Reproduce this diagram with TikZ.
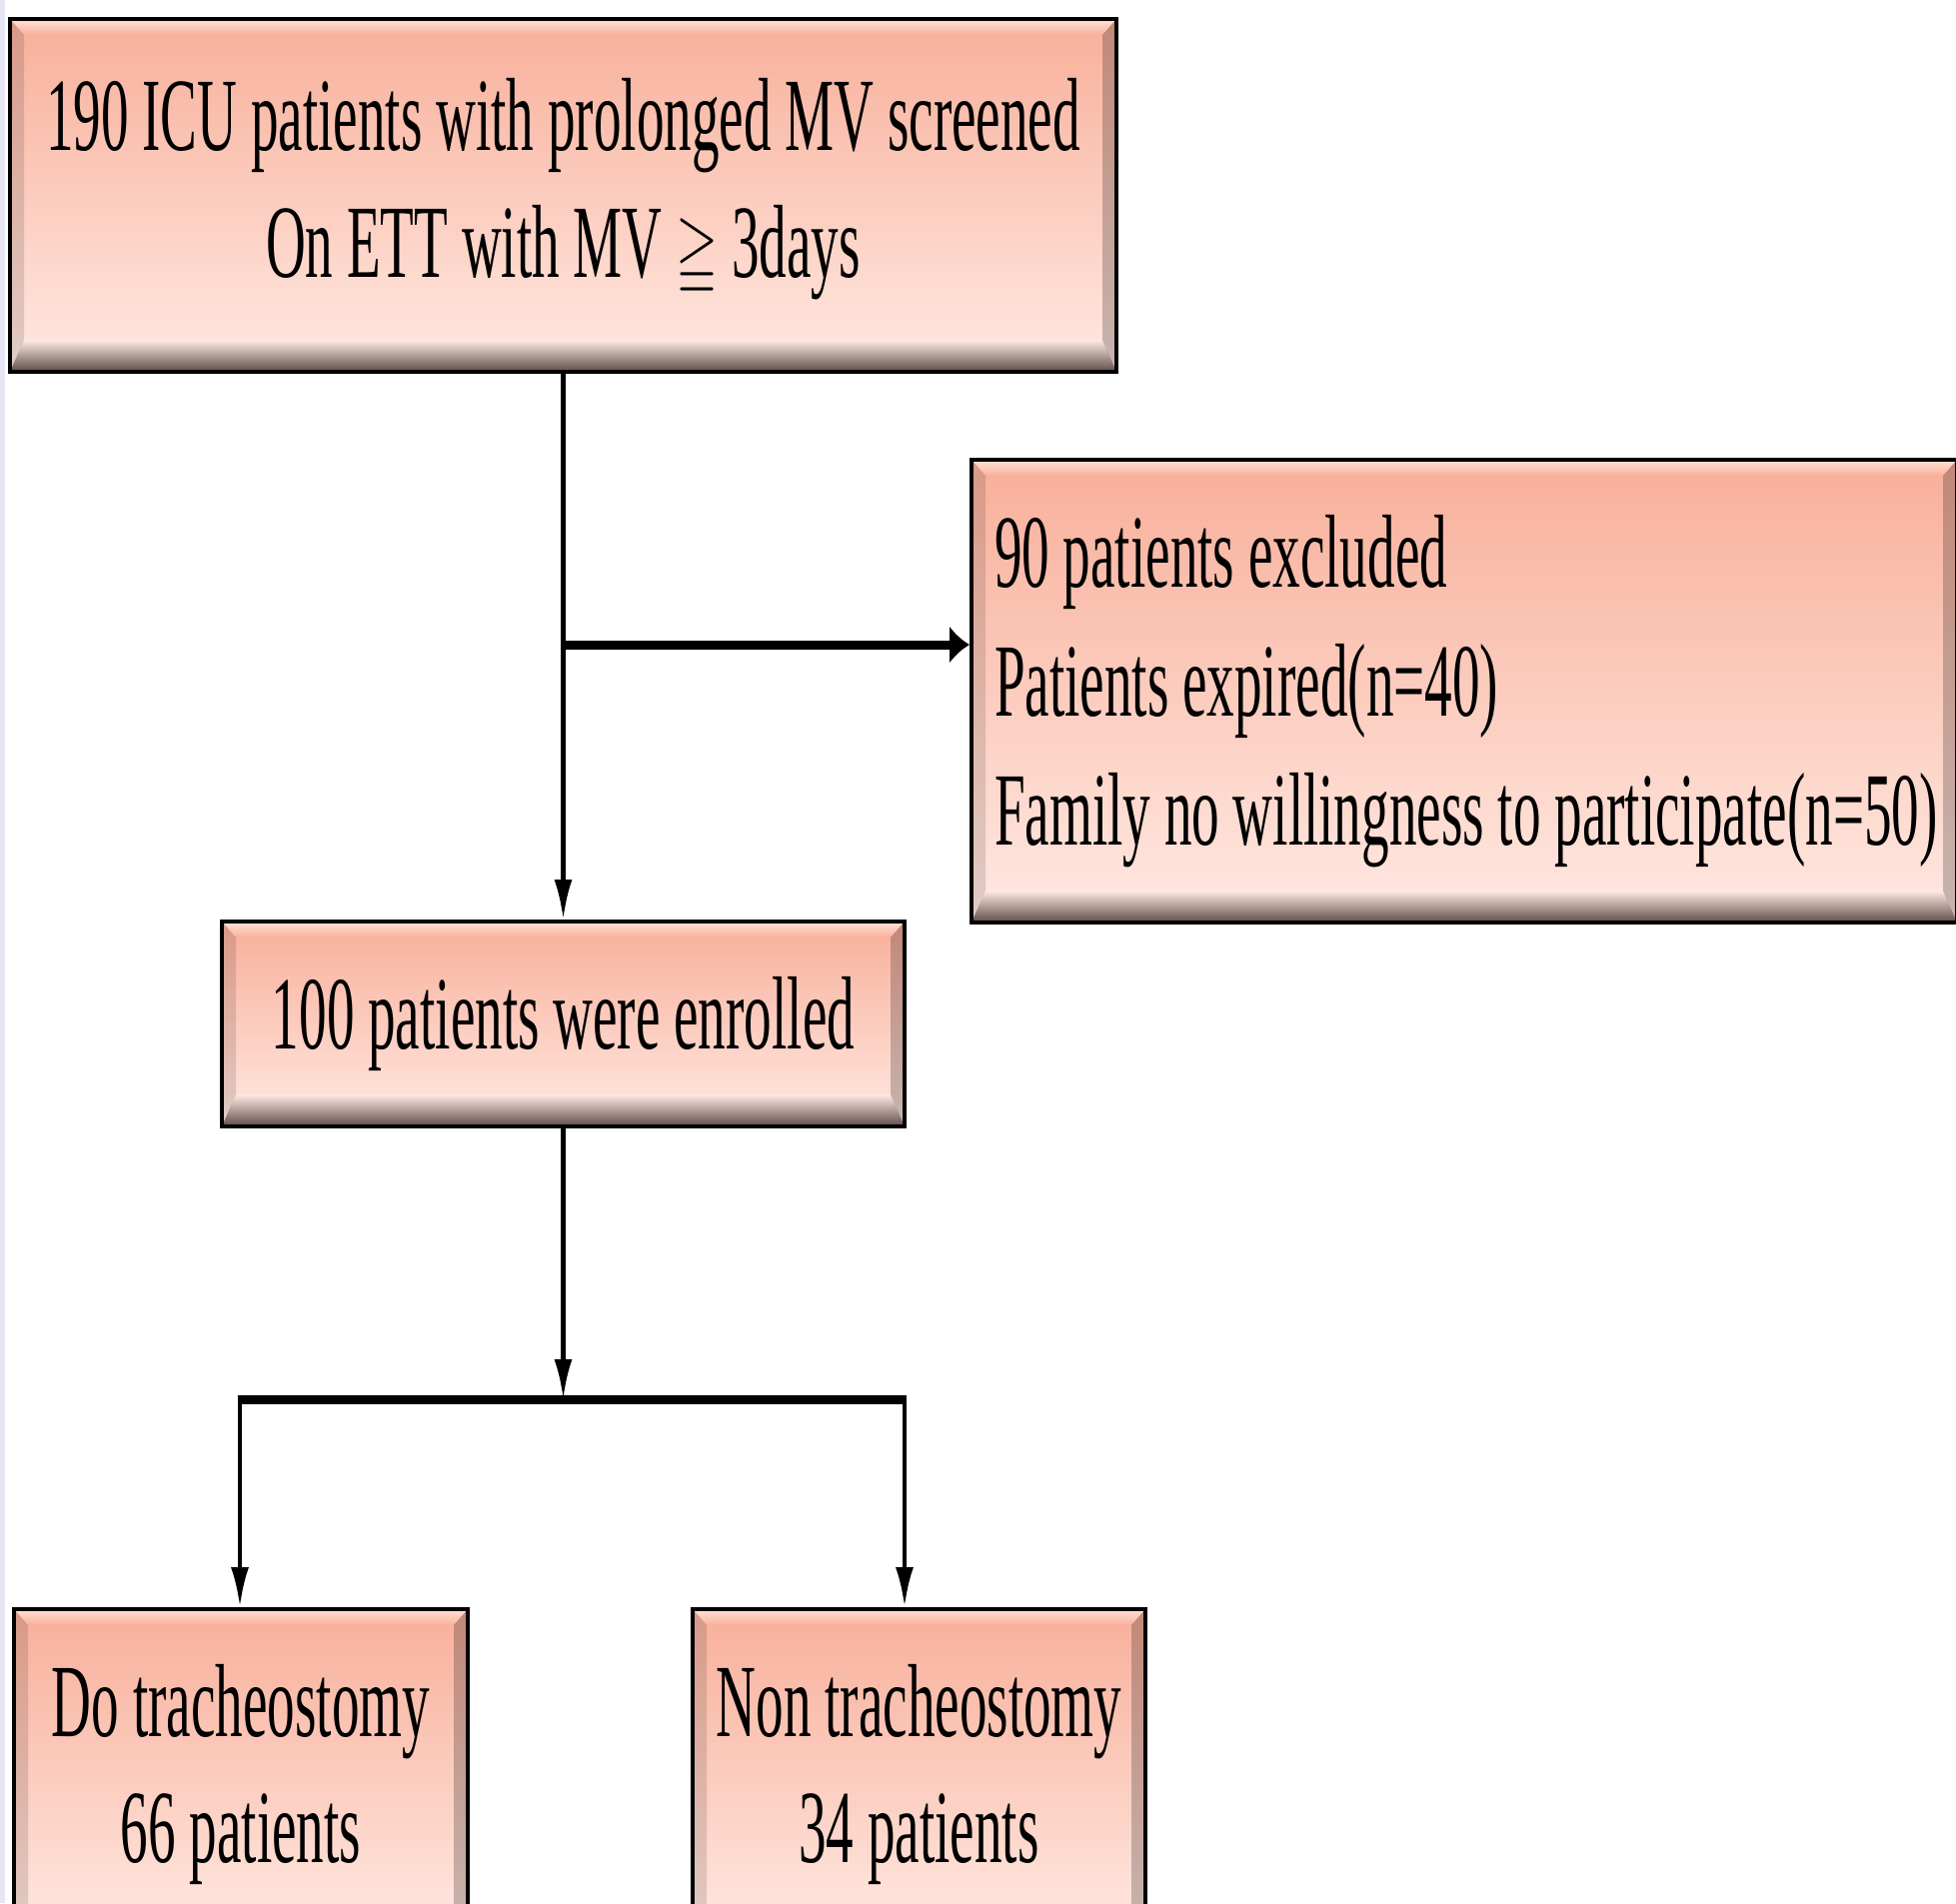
\documentclass[tikz,border=0pt]{standalone}
\usepackage{fontspec}
\usepackage{amssymb}
\usepackage{graphicx}
\setmainfont{Liberation Serif}[FakeStretch=0.53]
\usetikzlibrary{arrows.meta,calc}
\definecolor{boxtop}{HTML}{F8AF9A}
\definecolor{boxbot}{HTML}{FFE9E2}
\definecolor{hilite}{HTML}{FFE3D6}
\definecolor{shadowc}{HTML}{5E4C48}
\definecolor{lav}{HTML}{E6E6F4}
\newcommand{\geqqs}{\scalebox{0.52}[0.75]{$\geqq$}}
\tikzset{
  flowbox/.style={draw=black, line width=4pt, top color=boxtop, bottom color=boxbot,
    inner sep=0pt, align=center, font=\fontsize{104}{127}\selectfont,
    path picture={
      \coordinate (nw) at (path picture bounding box.north west);
      \coordinate (ne) at (path picture bounding box.north east);
      \coordinate (sw) at (path picture bounding box.south west);
      \coordinate (se) at (path picture bounding box.south east);
      \shade[top color=hilite, bottom color=boxtop] (nw) -- (ne) -- ([shift={(-14,16)}]ne) -- ([shift={(14,16)}]nw) -- cycle;
      \shade[top color=boxbot, bottom color=shadowc] ([shift={(14,-32)}]sw) -- ([shift={(-14,-32)}]se) -- (se) -- (sw) -- cycle;
      \fill[black,opacity=0.12] (nw) -- ([shift={(14,16)}]nw) -- ([shift={(14,-32)}]sw) -- (sw) -- cycle;
      \fill[black,opacity=0.22] (ne) -- ([shift={(-14,16)}]ne) -- ([shift={(-14,-32)}]se) -- (se) -- cycle;
    }},
  thinline/.style={line width=4.5pt, draw=black},
  thickline/.style={line width=9pt, draw=black},
  downarrow/.style={-{Latex[length=40pt,width=18pt]}},
  sidearrow/.style={-{Latex[length=20pt,width=38pt]}}
}
\begin{document}
\begin{tikzpicture}[x=1pt,y=-1pt]
\useasboundingbox (0,0) rectangle (1957,1904);
\clip (0,0) rectangle (1957,1904);
\fill[white] (0,0) rectangle (1957,1904);
\fill[lav] (0,0) rectangle (5,1904);

\node[flowbox, minimum width=1107pt, minimum height=353pt] (b1) at (563.5,195.5)
  {190 ICU patients with prolonged MV screened\\On ETT with MV \geqqs\ 3days\rule[-35pt]{0pt}{0pt}};
\node[flowbox, minimum width=986pt, minimum height=463pt, inner xsep=0pt, text width=986pt,
  align=flush left, font=\fontsize{104}{129}\selectfont] (b2) at (1465,691.5)
  {\hspace*{23pt}90 patients excluded\\\hspace*{23pt}Patients expired(n=40)\\\hspace*{23pt}Family no willingness to participate(n=50)};
\node[flowbox, minimum width=683pt, minimum height=205pt] (b3) at (563.5,1024.5)
  {100 patients were enrolled};
\node[flowbox, minimum width=454pt, minimum height=330pt, font=\fontsize{104}{126}\selectfont] (b4) at (241,1775)
  {Do tracheostomy\\66 patients};
\node[flowbox, minimum width=453pt, minimum height=330pt, font=\fontsize{104}{126}\selectfont] (b5) at (919.5,1775)
  {Non tracheostomy\\34 patients};

\coordinate (j1) at (563.5,645);
\coordinate (c0) at (563.5,1400);
\coordinate (cL) at (240,1400);
\coordinate (cR) at (905,1400);

\draw[thinline, downarrow] (b1.south) -- (b3.north);
\draw[thickline, sidearrow] (j1) -- (j1 -| b2.west);
\draw[thinline, downarrow] (b3.south) -- (c0);
\draw[thickline] ([xshift=-2.25pt]cL) -- ([xshift=2.25pt]cR);
\draw[thinline, downarrow] (cL) -- (cL |- b4.north);
\draw[thinline, downarrow] (cR) -- (cR |- b5.north);
\end{tikzpicture}
\end{document}
